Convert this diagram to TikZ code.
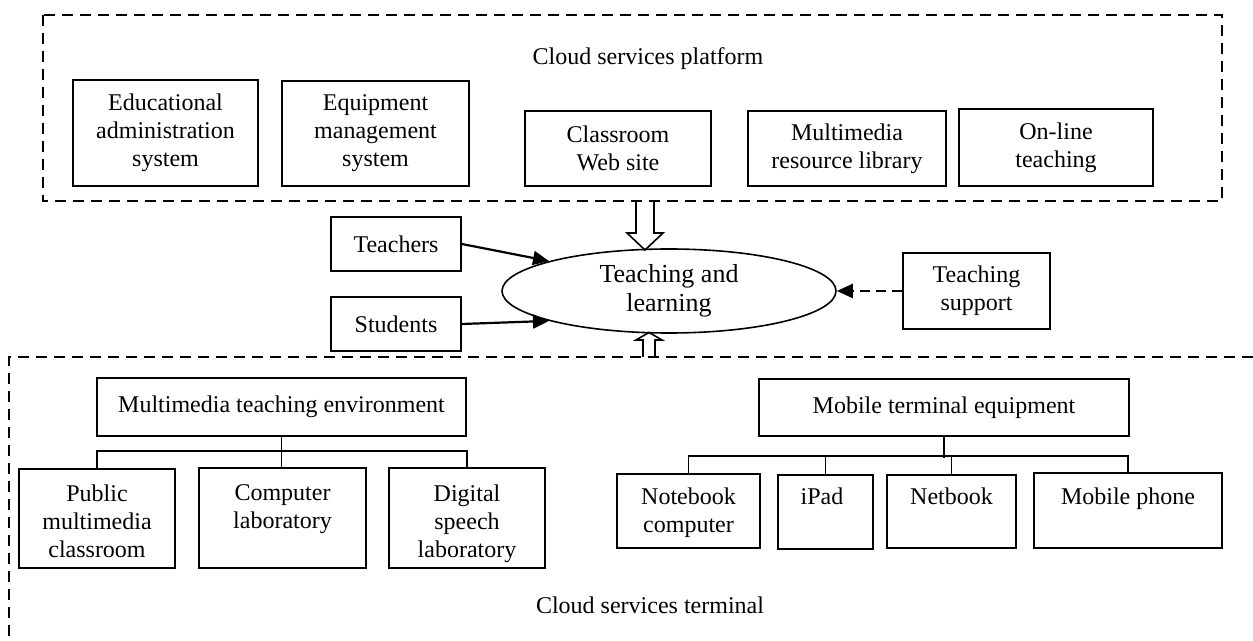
\documentclass[tikz,border=0pt]{standalone}
\usepackage{fontspec}
\setmainfont{Liberation Serif}
\usetikzlibrary{arrows.meta,shapes.geometric}
\begin{document}
\begin{tikzpicture}[x=0.5pt,y=-0.5pt,
  box/.style={draw,line width=0.9pt,inner sep=0pt,align=center,font=\fontsize{12}{14}\selectfont},
  lbl/.style={inner sep=0pt,align=center,font=\fontsize{12}{14}\selectfont},
  region/.style={draw,line width=0.9pt,dash pattern=on 5.5pt off 3.5pt},
  con/.style={line width=0.9pt},
  arr/.style={line width=1.1pt,-{Triangle[length=8pt,width=7pt]}},
  hollow/.style={line width=0.8pt},
  sz/.style 2 args={minimum width=#1pt,minimum height=#2pt}]
\useasboundingbox (0,0) rectangle (1253,641);

% platform region
\draw[region] (43,15) rectangle (1222,201);
\node[lbl,anchor=base] (plat) at (648,65) {Cloud services platform};
\node[box,sz={92.5}{53}] (eas) at (165.5,133) {Educational\\administration\\system};
\node[box,sz={93.5}{52.5}] (ems) at (375.5,133.5) {Equipment\\management\\system};
\node[box,sz={93}{37.5}] (cws) at (618,148.5) {Classroom\\Web site};
\node[box,sz={99}{37.5}] (mrl) at (847,148.5) {Multimedia\\resource library};
\node[box,sz={97}{38.5}] (olt) at (1056,147.5) {On-line\\teaching};

% hollow arrows
\draw[hollow] (636,201) -- (636,233) -- (627,233) -- (645,250) -- (663,233) -- (654,233) -- (654,201);
\draw[hollow] (643,357) -- (643,340) -- (636,340) -- (649,332.5) -- (662,340) -- (655,340) -- (655,357);

% middle
\node[draw,ellipse,line width=0.8pt,inner sep=0pt,minimum width=167pt,minimum height=42pt,align=center,
  font=\fontsize{13}{14.5}\selectfont] (ell) at (669,291) {Teaching and\\learning};
\node[box,sz={65}{27}] (tch) at (396,244) {Teachers};
\node[box,sz={65}{27}] (stu) at (396,324) {Students};
\node[box,sz={73.5}{38}] (ts) at (976.5,291) {Teaching\\support};
\draw[arr] (tch.east) -- (ell.166);
\draw[arr] (stu.east) -- (ell.194);
\draw[arr,dash pattern=on 5pt off 3pt] (ts.west) -- (ell.east);

% terminal region
\draw[region] (1253,357) -- (9,357) -- (9,641);
\node[lbl,anchor=base] (term) at (650,613) {Cloud services terminal};

\node[box,sz={184.5}{29}] (mte) at (281.5,407) {Multimedia teaching environment};
\node[box,sz={78}{49.5}] (pub) at (97,518.5) {};
\node[box,sz={83.5}{50}] (comp) at (282.5,518) {};
\node[box,sz={78}{50}] (dig) at (467,518) {};
\node[lbl,anchor=north] (pubt) at (97,484) {Public\\multimedia\\classroom};
\node[lbl,anchor=north] (compt) at (282.5,484) {Computer\\laboratory};
\node[lbl,anchor=north] (digt) at (467,484) {Digital\\speech\\laboratory};
\draw[con] (mte.south) -- (mte.south |- comp.north);
\draw[con] (pub.north) -- ++(0,-17) -| (dig.north);

\node[box,sz={185}{28.5}] (mobe) at (944,407.5) {Mobile terminal equipment};
\node[box,sz={71.5}{37}] (nb) at (688.5,511) {};
\node[box,sz={47.5}{37}] (ipad) at (825.5,512) {};
\node[box,sz={64.5}{36.5}] (net) at (951.5,511.5) {};
\node[box,sz={94}{37.5}] (mp) at (1128,510.5) {};
\node[lbl,anchor=north] (nbt) at (688.5,487) {Notebook\\computer};
\node[lbl,anchor=north] (ipadt) at (822,487) {iPad};
\node[lbl,anchor=north] (nett) at (951.5,487) {Netbook};
\node[lbl,anchor=north] (mpt) at (1128,487) {Mobile phone};
\draw[con] (mobe.south) -- ++(0,21);
\draw[con] (nb.north) -- ++(0,-17) -| (mp.north);
\draw[con] (ipad.north) -- ++(0,-18);
\draw[con] (net.north) -- ++(0,-18);
\end{tikzpicture}
\end{document}
